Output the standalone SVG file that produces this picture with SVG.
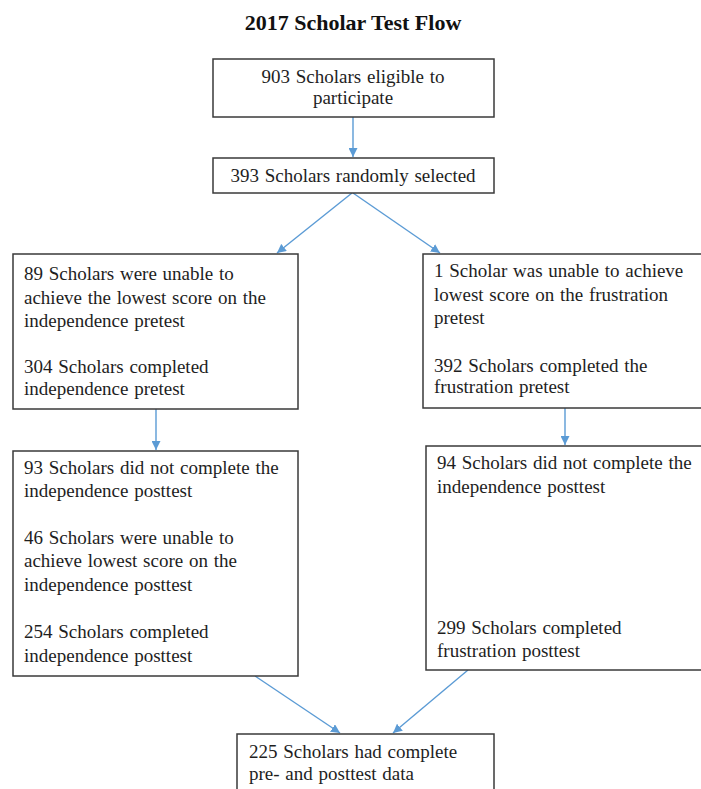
<svg xmlns="http://www.w3.org/2000/svg" width="701" height="789" viewBox="0 0 701 789">
<style>
.box{fill:#fff;stroke:#3a3a3a;stroke-width:1.5}
.t{font-family:"Liberation Serif","Times New Roman",serif;font-size:19px;fill:#1e1e1e;word-spacing:1px}
.title{font-family:"Liberation Serif","Times New Roman",serif;font-size:22px;font-weight:bold;fill:#111;text-anchor:middle}
.c{stroke:#5b9bd5;stroke-width:1.4;fill:none;marker-end:url(#ah)}
</style>
<defs>
<marker id="ah" viewBox="0 0 10 10" refX="10" refY="5" markerWidth="9" markerHeight="9" markerUnits="userSpaceOnUse" orient="auto">
<path d="M0,0 L10,5 L0,10 z" fill="#5b9bd5"/>
</marker>
</defs>
<rect width="701" height="789" fill="#fff"/>
<text class="title" x="353" y="30">2017 Scholar Test Flow</text>
<g id="connectors">
<line class="c" x1="353" y1="117" x2="353" y2="157"/>
<line class="c" x1="352" y1="193" x2="277" y2="253"/>
<line class="c" x1="353" y1="193" x2="440" y2="253"/>
<line class="c" x1="156" y1="409" x2="156" y2="450"/>
<line class="c" x1="565" y1="408" x2="565" y2="445"/>
<line class="c" x1="255" y1="676" x2="340" y2="733"/>
<line class="c" x1="468" y1="670" x2="393" y2="733"/>
</g>
<g id="n1">
<rect class="box" x="213" y="59" width="281" height="58"/>
<text class="t" x="353" y="83" text-anchor="middle">903 Scholars eligible to</text>
<text class="t" x="353" y="104" text-anchor="middle">participate</text>
</g>
<g id="n2">
<rect class="box" x="213" y="158" width="281" height="35"/>
<text class="t" x="353" y="182" text-anchor="middle">393 Scholars randomly selected</text>
</g>
<g id="n3">
<rect class="box" x="13" y="254" width="285" height="155"/>
<text class="t" x="24" y="280">89 Scholars were unable to</text>
<text class="t" x="24" y="304">achieve the lowest score on the</text>
<text class="t" x="24" y="327">independence pretest</text>
<text class="t" x="24" y="373">304 Scholars completed</text>
<text class="t" x="24" y="395">independence pretest</text>
</g>
<g id="n4">
<rect class="box" x="423" y="254" width="290" height="154"/>
<text class="t" x="434" y="277">1 Scholar was unable to achieve</text>
<text class="t" x="434" y="301">lowest score on the frustration</text>
<text class="t" x="434" y="324">pretest</text>
<text class="t" x="434" y="372">392 Scholars completed the</text>
<text class="t" x="434" y="393">frustration pretest</text>
</g>
<g id="n5">
<rect class="box" x="13" y="451" width="285" height="225"/>
<text class="t" x="24" y="474">93 Scholars did not complete the</text>
<text class="t" x="24" y="497">independence posttest</text>
<text class="t" x="24" y="544">46 Scholars were unable to</text>
<text class="t" x="24" y="567">achieve lowest score on the</text>
<text class="t" x="24" y="591">independence posttest</text>
<text class="t" x="24" y="638">254 Scholars completed</text>
<text class="t" x="24" y="662">independence posttest</text>
</g>
<g id="n6">
<rect class="box" x="426" y="446" width="290" height="224"/>
<text class="t" x="437" y="469">94 Scholars did not complete the</text>
<text class="t" x="437" y="493">independence posttest</text>
<text class="t" x="437" y="634">299 Scholars completed</text>
<text class="t" x="437" y="657">frustration posttest</text>
</g>
<g id="n7">
<rect class="box" x="237" y="734" width="257" height="70"/>
<text class="t" x="249" y="758">225 Scholars had complete</text>
<text class="t" x="249" y="780">pre- and posttest data</text>
</g>
</svg>
